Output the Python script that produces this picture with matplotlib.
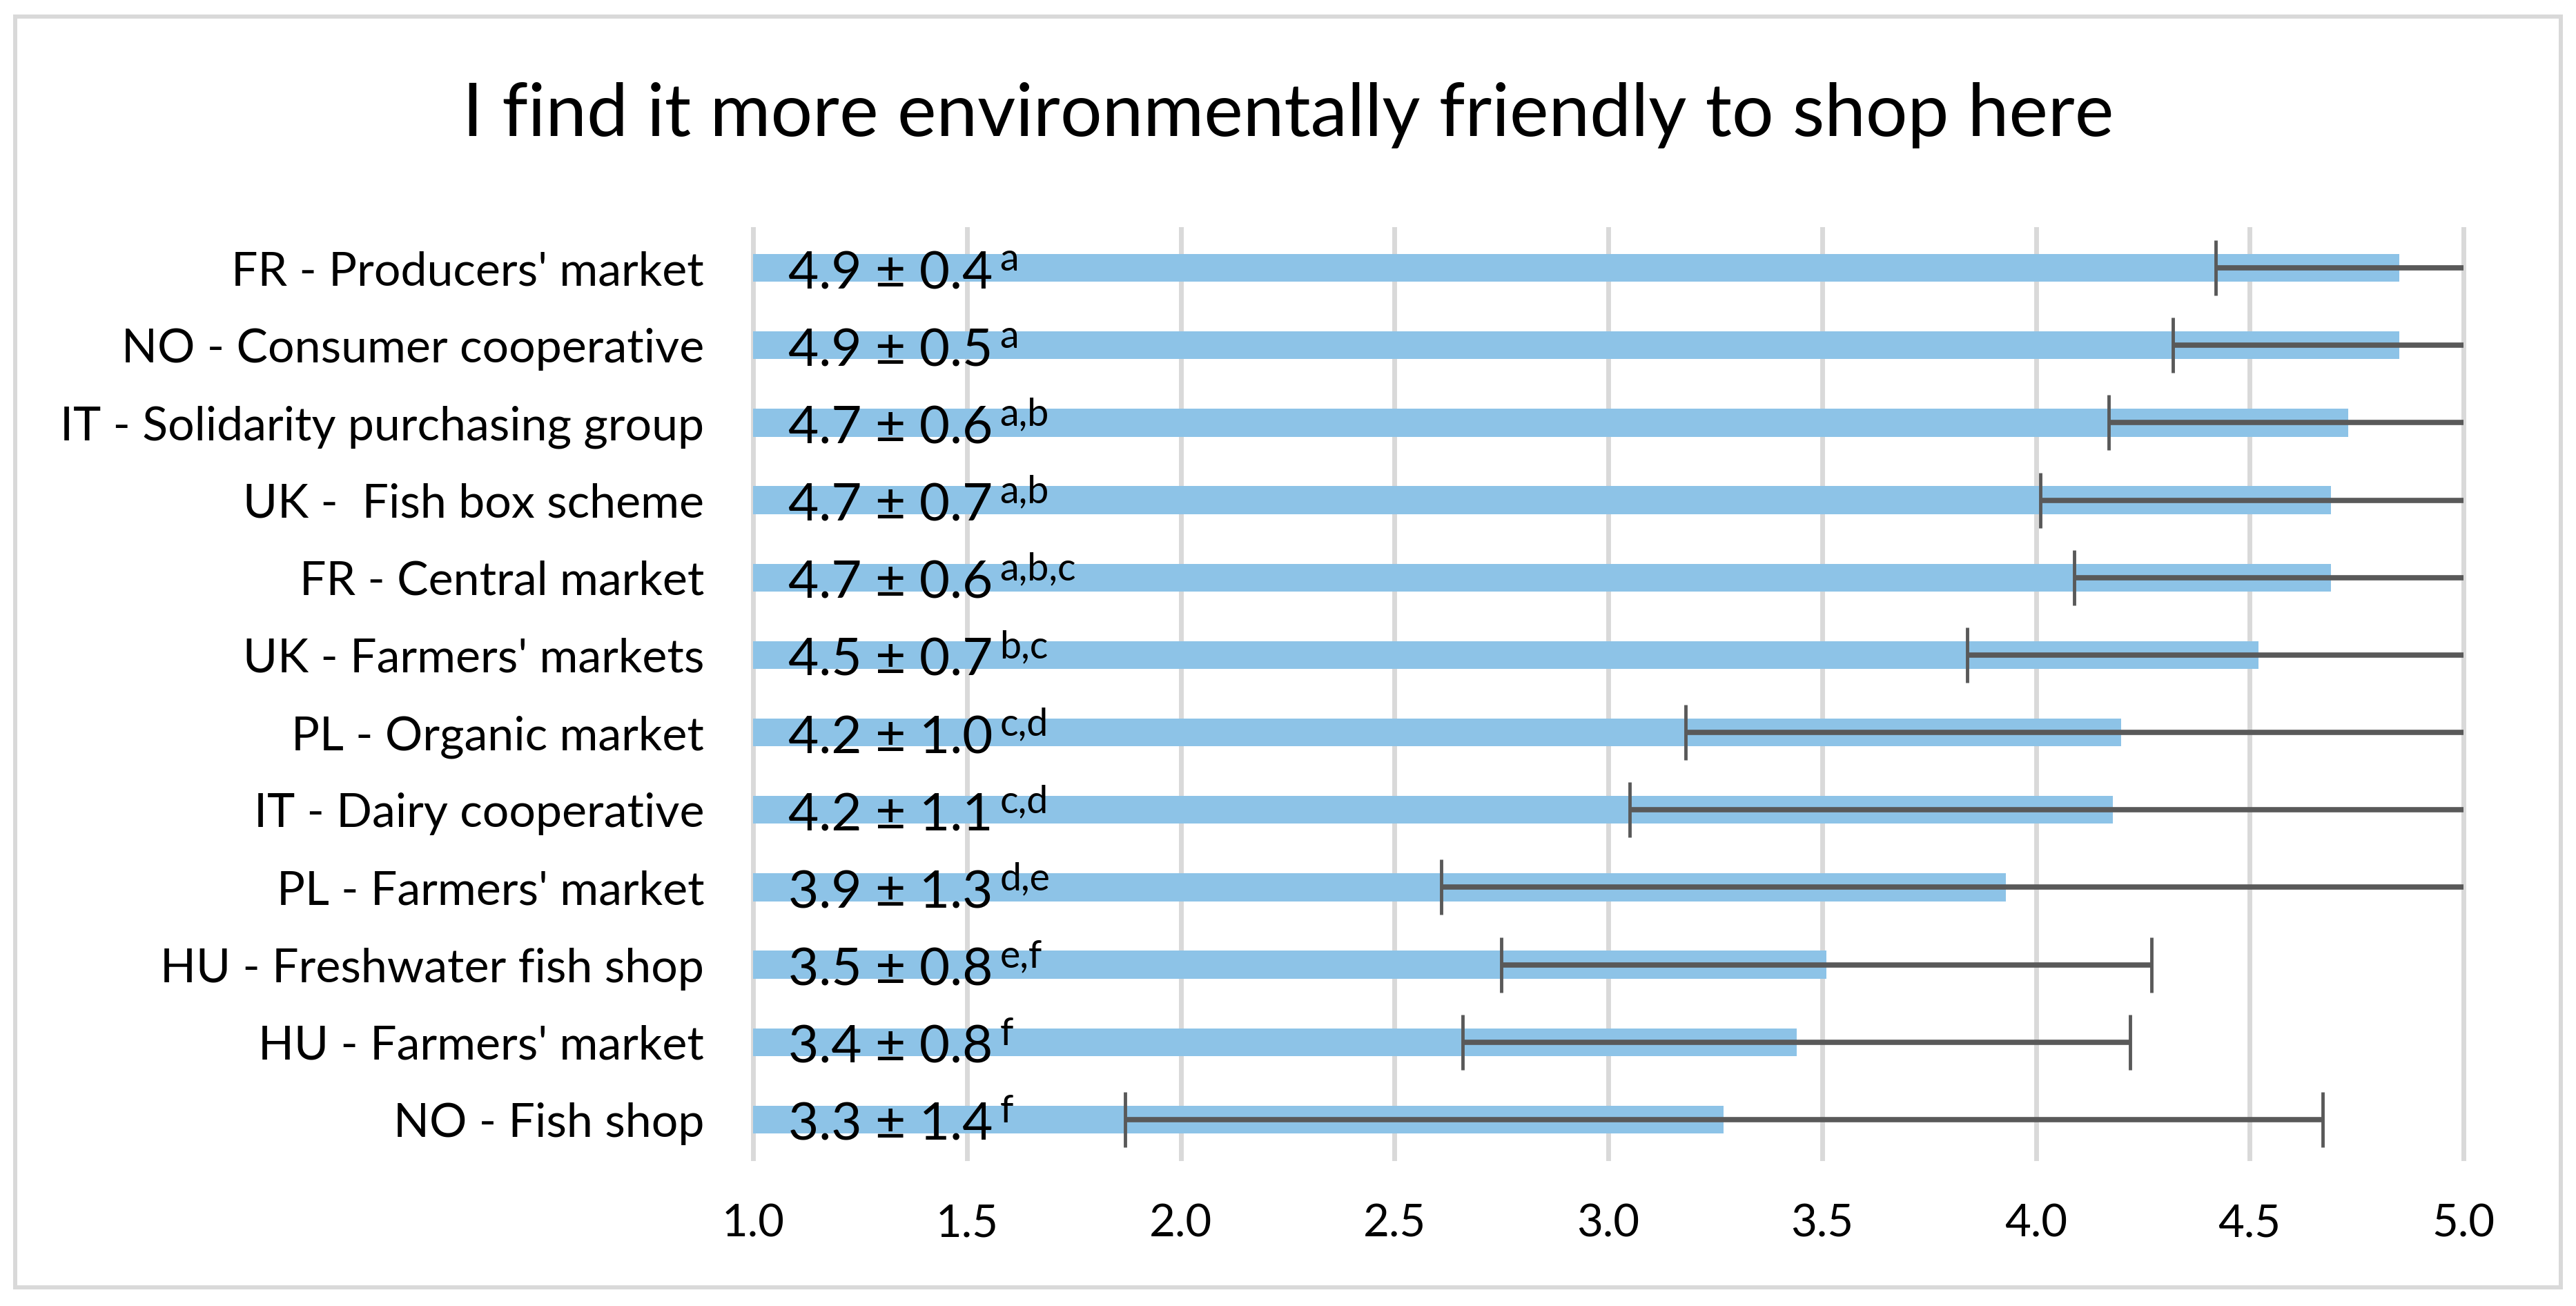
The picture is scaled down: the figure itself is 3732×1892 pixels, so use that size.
import numpy as np
import matplotlib
matplotlib.use("Agg")
import matplotlib.pyplot as plt
from matplotlib.patches import Rectangle

plt.rcParams['font.family'] = ['Lato', 'DejaVu Sans']

title = "I find it more environmentally friendly to shop here"
categories = ["FR - Producers' market", "NO - Consumer cooperative",
              "IT - Solidarity purchasing group", "UK -  Fish box scheme",
              "FR - Central market", "UK - Farmers' markets",
              "PL - Organic market", "IT - Dairy cooperative",
              "PL - Farmers' market", "HU - Freshwater fish shop",
              "HU - Farmers' market", "NO - Fish shop"]
means = [4.85, 4.85, 4.73, 4.69, 4.69, 4.52, 4.20, 4.18, 3.93, 3.51, 3.44, 3.27]
sds = [0.43, 0.53, 0.56, 0.68, 0.60, 0.68, 1.02, 1.13, 1.32, 0.76, 0.78, 1.40]
labels = ["4.9 \u00b1 0.4", "4.9 \u00b1 0.5", "4.7 \u00b1 0.6", "4.7 \u00b1 0.7",
          "4.7 \u00b1 0.6", "4.5 \u00b1 0.7", "4.2 \u00b1 1.0", "4.2 \u00b1 1.1",
          "3.9 \u00b1 1.3", "3.5 \u00b1 0.8", "3.4 \u00b1 0.8", "3.3 \u00b1 1.4"]
letters = ["a", "a", "a,b", "a,b", "a,b,c", "b,c", "c,d", "c,d", "d,e", "e,f", "f", "f"]
xticks = [1.0, 1.5, 2.0, 2.5, 3.0, 3.5, 4.0, 4.5, 5.0]

W, H = 3732, 1892
fig = plt.figure(figsize=(W / 100, H / 100), dpi=100)
ax = fig.add_axes([1091 / W, 1 - 1678 / H, (3569 - 1091) / W, (1678 - 332) / H])

y = np.arange(len(categories))
base = 1.0
ax.barh(y, np.array(means) - base, left=base, height=0.36, color='#8DC3E7', zorder=2)
ax.errorbar(means, y, xerr=sds, fmt='none', ecolor='#595959', elinewidth=5.5,
            capsize=29, capthick=3.5, zorder=3)

for i in range(len(categories)):
    main = ax.annotate(labels[i], xy=(base, y[i]), xytext=(37, -21.6),
                       textcoords='offset points', fontsize=55, va='baseline',
                       ha='left', color='black', zorder=4)
    ax.annotate(letters[i], xy=(1, y[i]), xycoords=(main, 'data'),
                xytext=(7, -2.9), textcoords='offset points', fontsize=40,
                va='baseline', ha='left', color='black', zorder=4)

ax.set_xlim(1, 5)
ax.set_ylim(len(categories) - 0.5, -0.5)
ax.set_xticks(xticks)
ax.set_xticklabels([f"{t:.1f}" for t in xticks])
ax.set_yticks(y)
ax.set_yticklabels(categories)
ax.tick_params(axis='x', length=0, pad=47, labelsize=47)
ax.tick_params(axis='y', length=0, pad=51, labelsize=49)
for s in ax.spines.values():
    s.set_visible(False)
ax.grid(axis='x', color='#D9D9D9', linewidth=5, zorder=0)
ax.set_axisbelow(True)
for gl in ax.get_xgridlines():
    gl.set_clip_on(False)

fig.text(0.5, 1 - 197 / H, title, ha='center', va='baseline', fontsize=77)

fig.patches.append(Rectangle((22 / W, 27 / H), (3710 - 22) / W, (1865 - 24) / H,
                             transform=fig.transFigure, fill=False,
                             edgecolor='#D9D9D9', linewidth=4.3))

fig.savefig("out.png", dpi=100)
